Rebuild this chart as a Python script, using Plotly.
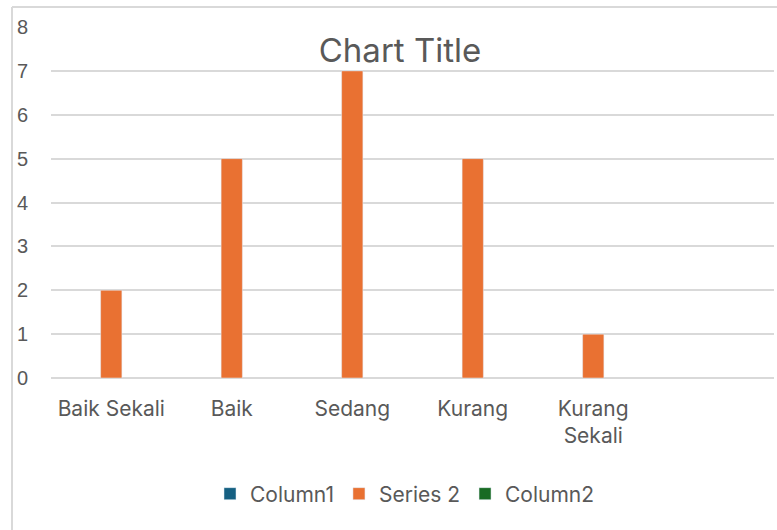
import plotly.graph_objects as go

categories = ["Baik Sekali", "Baik", "Sedang", "Kurang", "Kurang Sekali"]
tick_labels = ["Baik Sekali", "Baik", "Sedang", "Kurang", "Kurang<br>Sekali"]
column1 = [None, None, None, None, None]
series2 = [2, 5, 7, 5, 1]
column2 = [None, None, None, None, None]
y_ticks = [0, 1, 2, 3, 4, 5, 6, 7, 8]

W, H = 777, 530
L, R, T, B = 51, 3, 27, 152
pw, ph = W - L - R, H - T - B

TXT = "#595959"
GRID = "#d9d9d9"
CAT_FONT = "Inter, Roboto, sans-serif"

fig = go.Figure()
fig.add_bar(name="Column1", x=categories, y=column1, marker_color="#156082")
fig.add_bar(name="Series 2", x=categories, y=series2, marker_color="#E97132")
fig.add_bar(name="Column2", x=categories, y=column2, marker_color="#196B24")

fig.update_layout(
    width=W, height=H,
    margin=dict(l=L, r=R, t=T, b=B, pad=0, autoexpand=False),
    paper_bgcolor="white", plot_bgcolor="white",
    barmode="group", bargap=0.47, bargroupgap=0,
    showlegend=True,
    legend=dict(orientation="h", x=(405 - L) / pw, xanchor="center",
                y=(ph - (494 - T)) / ph, yanchor="middle",
                font=dict(family=CAT_FONT, size=21, color=TXT),
                itemwidth=30, tracegroupgap=0),
    title=dict(text="Chart Title", x=400 / W, xanchor="center", xref="container",
               y=1 - 50 / H, yanchor="middle", yref="container",
               font=dict(family=CAT_FONT, size=33, color=TXT)),
    xaxis=dict(type="category", range=[-0.5, 5.5], tickmode="array",
               tickvals=categories, ticktext=tick_labels, automargin=False,
               showgrid=False, showline=False, ticks="", zeroline=False,
               tickfont=dict(family=CAT_FONT, size=21, color=TXT),
               ticklabelstandoff=16),
    yaxis=dict(range=[0, 8], tickmode="array", tickvals=y_ticks, automargin=False,
               showgrid=True, gridcolor=GRID, gridwidth=1.5,
               zeroline=True, zerolinecolor=GRID, zerolinewidth=1.5,
               showline=False, ticks="",
               tickfont=dict(family="Liberation Sans, Arial, sans-serif", size=20, color=TXT),
               ticklabelstandoff=22),
    shapes=[
        dict(type="line", xref="paper", yref="paper",
             x0=(12 - L) / pw, x1=(12 - L) / pw, y0=(ph - (7 - T)) / ph, y1=-(H - (T + ph)) / ph - 0.1,
             line=dict(color=GRID, width=2)),
        dict(type="line", xref="paper", yref="paper",
             x0=(12 - L) / pw, x1=1.1, y0=(ph - (7 - T)) / ph, y1=(ph - (7 - T)) / ph,
             line=dict(color=GRID, width=2)),
    ],
)

fig.write_html("out.html", config={"displayModeBar": False},
               post_script="document.body.style.margin='0';document.body.style.overflow='hidden';")
